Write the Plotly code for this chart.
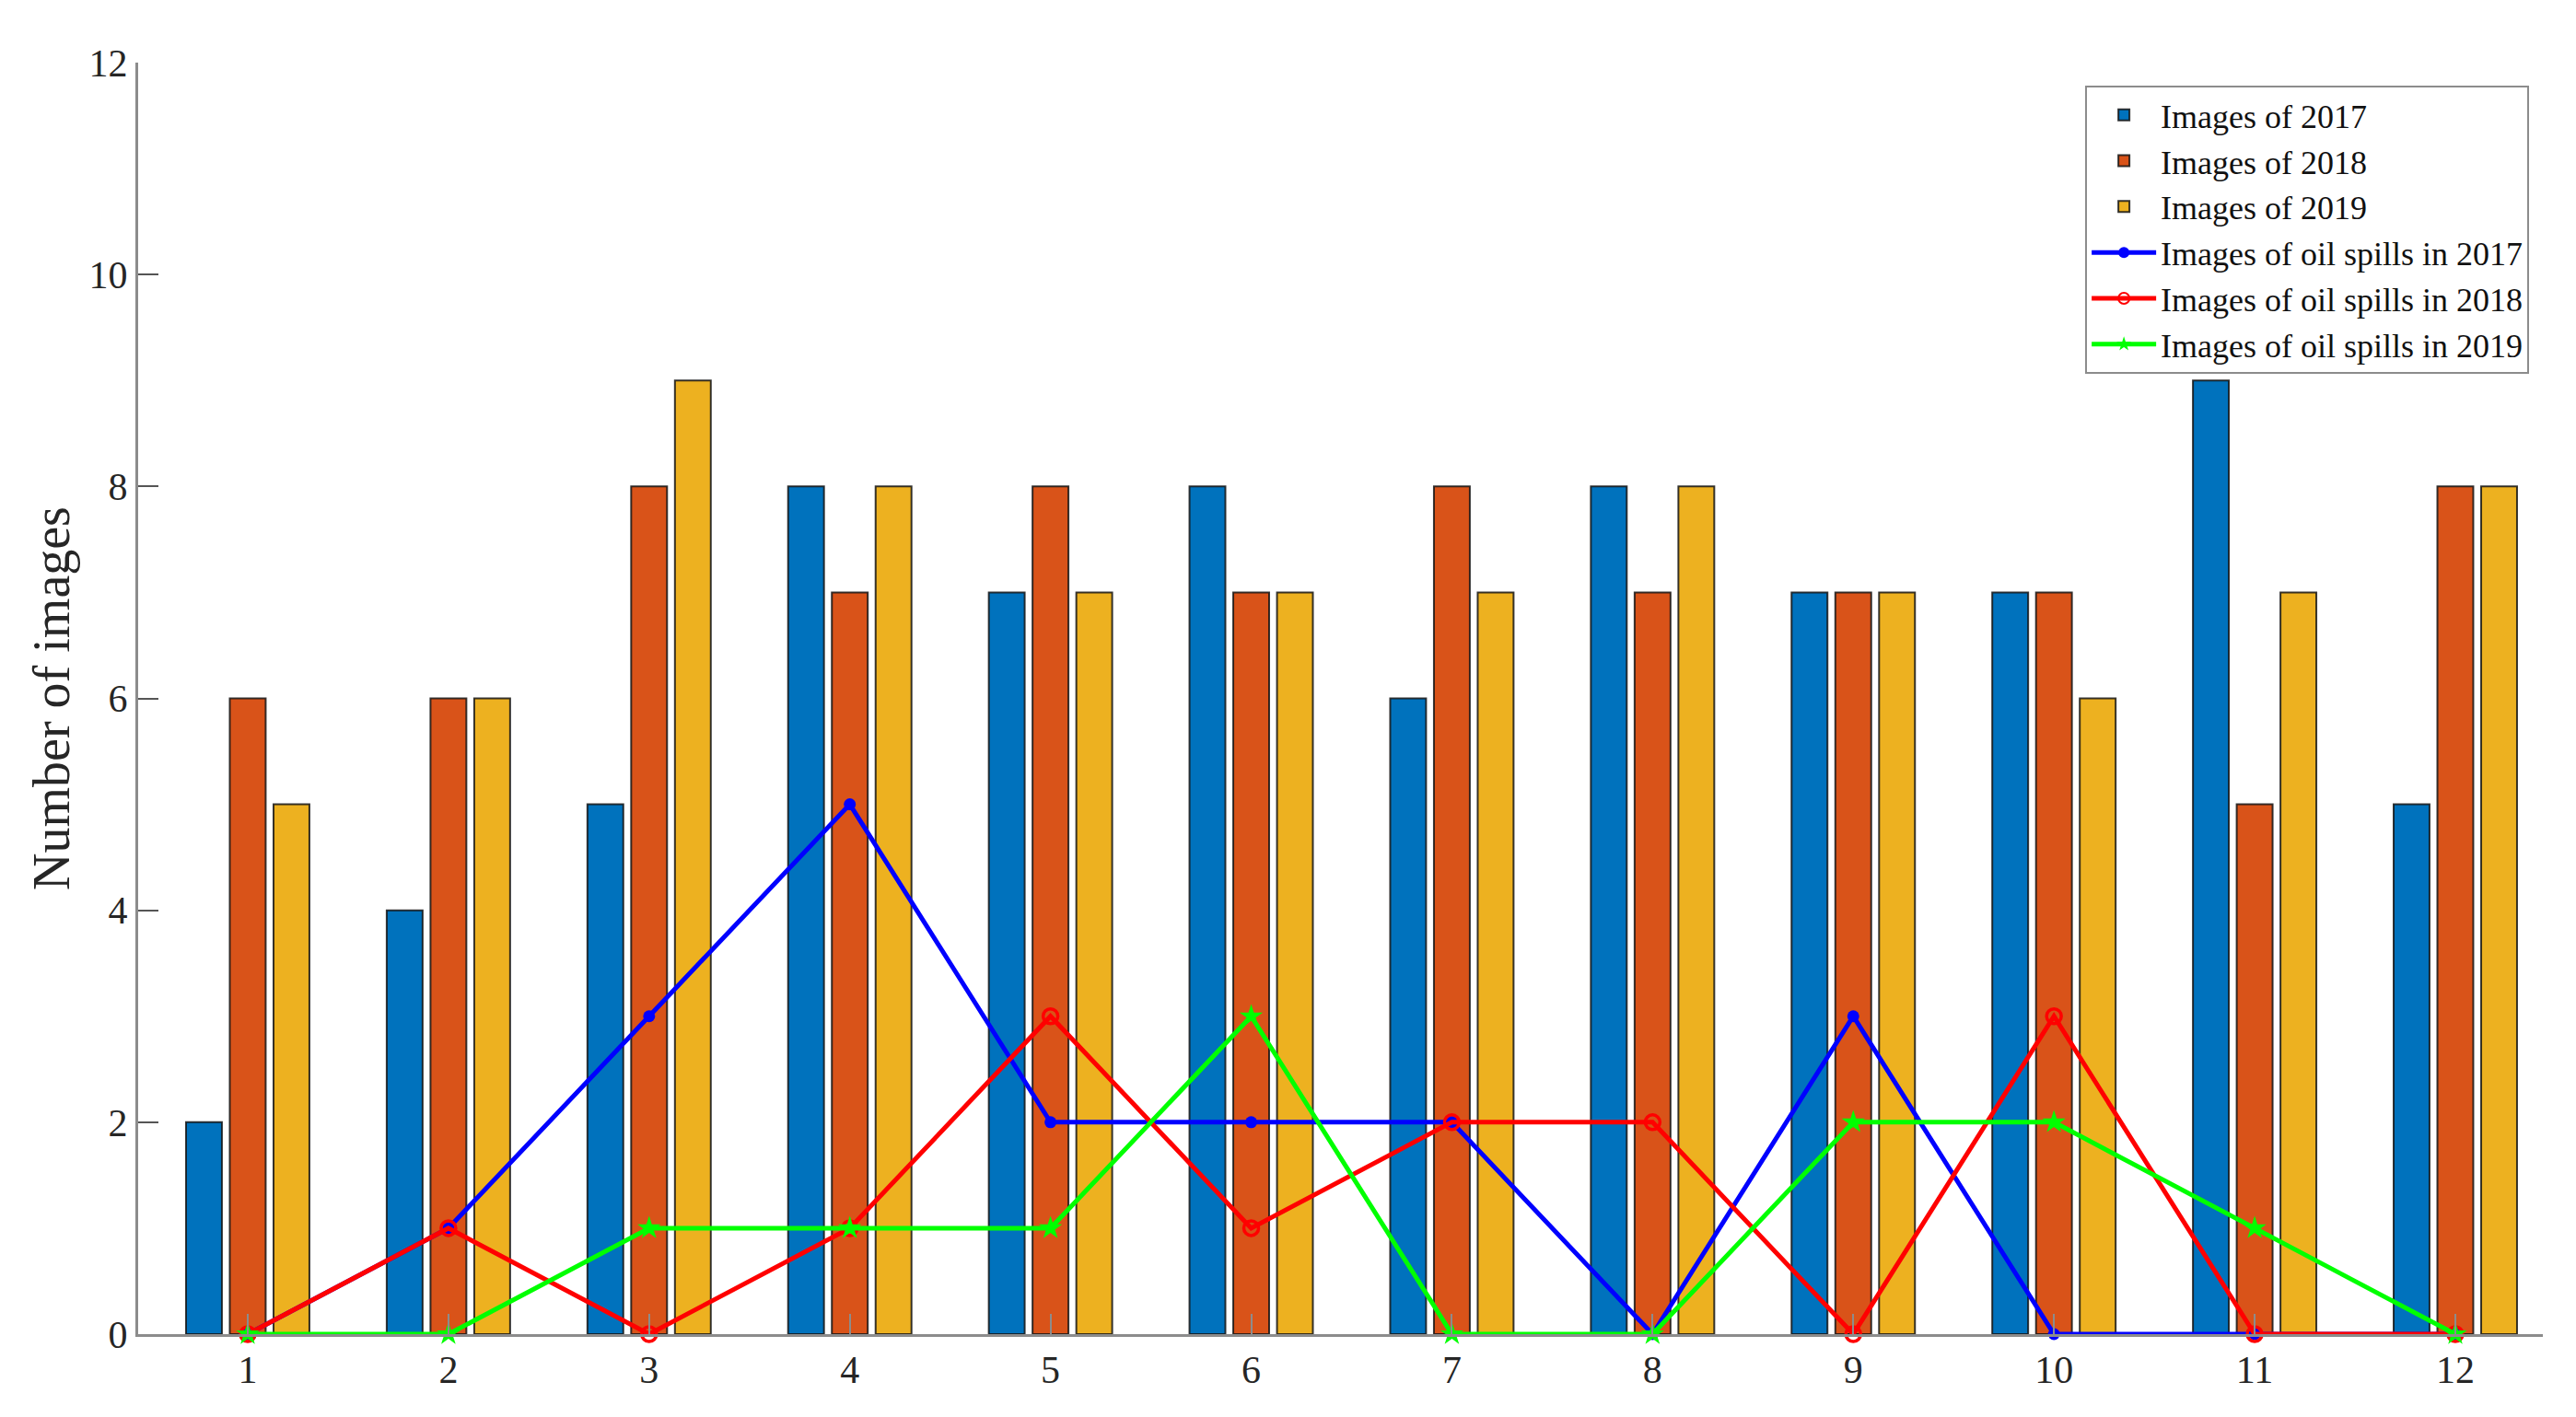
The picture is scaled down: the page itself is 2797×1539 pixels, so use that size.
import plotly.graph_objects as go

months = [1, 2, 3, 4, 5, 6, 7, 8, 9, 10, 11, 12]
images_2017 = [2, 4, 5, 8, 7, 8, 6, 8, 7, 7, 9, 5]
images_2018 = [6, 6, 8, 7, 8, 7, 8, 7, 7, 7, 5, 8]
images_2019 = [5, 6, 9, 8, 7, 7, 7, 8, 7, 6, 7, 8]
spills_2017 = [0, 1, 3, 5, 2, 2, 2, 0, 3, 0, 0, 0]
spills_2018 = [0, 1, 0, 1, 3, 1, 2, 2, 0, 3, 0, 0]
spills_2019 = [0, 0, 1, 1, 1, 3, 0, 0, 2, 2, 1, 0]
y_ticks = [0, 2, 4, 6, 8, 10, 12]

FONT = "Liberation Serif"
edge = dict(color="rgba(20,20,20,0.85)", width=2)

fig = go.Figure()
fig.add_trace(go.Bar(x=months, y=images_2017, name="Images of 2017",
                     marker=dict(color="#0072BD", line=edge)))
fig.add_trace(go.Bar(x=months, y=images_2018, name="Images of 2018",
                     marker=dict(color="#D95319", line=edge)))
fig.add_trace(go.Bar(x=months, y=images_2019, name="Images of 2019",
                     marker=dict(color="#EDB120", line=edge)))
fig.add_trace(go.Scatter(x=months, y=spills_2017, name="Images of oil spills in 2017",
                         mode="lines+markers", line=dict(color="#0000FF", width=5),
                         marker=dict(symbol="circle", size=13, color="#0000FF"),
                         cliponaxis=False))
fig.add_trace(go.Scatter(x=months, y=spills_2018, name="Images of oil spills in 2018",
                         mode="lines+markers", line=dict(color="#FF0000", width=5),
                         marker=dict(symbol="circle-open", size=16, color="#FF0000",
                                     line=dict(width=3.5)),
                         cliponaxis=False))
fig.add_trace(go.Scatter(x=months, y=spills_2019, name="Images of oil spills in 2019",
                         mode="lines+markers", line=dict(color="#00FF00", width=5),
                         marker=dict(symbol="star", size=19, color="#00FF00"),
                         cliponaxis=False))

fig.update_layout(
    width=2797, height=1539,
    margin=dict(l=142, r=44, t=60, b=98),
    paper_bgcolor="white", plot_bgcolor="white",
    font=dict(family=FONT, size=42, color="#262626"),
    barmode="group", bargap=0.346, bargroupgap=0.18,
    showlegend=True,
    legend=dict(x=0.9943, y=0.982, xanchor="right", yanchor="top",
                bgcolor="white", bordercolor="#8c8c8c", borderwidth=2,
                font=dict(family=FONT, size=36, color="#111111"),
                tracegroupgap=0, itemsizing="constant", itemwidth=70),
    xaxis=dict(range=[0.454, 12.436], tickmode="array", tickvals=months,
               ticktext=[str(m) for m in months], automargin=False,
               showline=True, linecolor="#8c8c8c", linewidth=3,
               ticks="inside", ticklen=22, tickcolor="#8c8c8c", tickwidth=2,
               showgrid=False, zeroline=False,
               tickfont=dict(family=FONT, size=42, color="#262626")),
    yaxis=dict(range=[0, 12], tickmode="array", tickvals=y_ticks, automargin=False,
               showline=True, linecolor="#8c8c8c", linewidth=3,
               ticks="inside", ticklen=22, tickcolor="#555555", tickwidth=2,
               showgrid=False, zeroline=False,
               tickfont=dict(family=FONT, size=42, color="#262626"),
               title=dict(text="Number of images", standoff=3,
                          font=dict(family=FONT, size=56, color="#262626"))),
)

fig.write_html("out.html")
